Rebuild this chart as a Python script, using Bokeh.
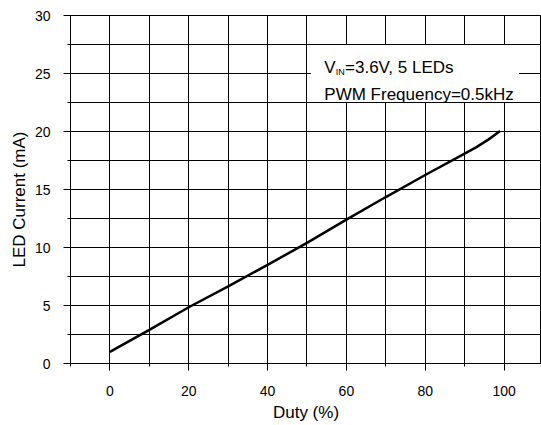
from bokeh.plotting import figure
from bokeh.models import SingleIntervalTicker, Range1d, Label, Title
from bokeh.embed import file_html
from bokeh.resources import INLINE

# data
duty = [0, 10, 20, 30, 40, 50, 60, 70, 80, 90, 93, 96, 99]
current = [1.0, 2.9, 4.85, 6.65, 8.5, 10.4, 12.4, 14.35, 16.25, 18.1, 18.65, 19.3, 20.05]

x_ticks_major = 20
y_ticks_major = 5
x_label = "Duty (%)"
y_label = "LED Current (mA)"
note_v = "V"
note_sub = "IN"
note_rest = "=3.6V, 5 LEDs"
note_line2 = "PWM Frequency=0.5kHz"

FONT = "Liberation Sans"

p = figure(width=541, height=425, output_backend="svg", toolbar_location=None,
           x_range=Range1d(-10, 109.5), y_range=Range1d(0, 30),
           min_border_left=70, min_border_right=0, min_border_top=15, min_border_bottom=62)
p.background_fill_color = "white"
p.border_fill_color = "white"
p.outline_line_color = "black"
p.outline_line_width = 1

# axes
p.xaxis.ticker = SingleIntervalTicker(interval=x_ticks_major, num_minor_ticks=2)
p.yaxis.ticker = SingleIntervalTicker(interval=y_ticks_major, num_minor_ticks=2)
for ax in (p.xaxis[0], p.yaxis[0]):
    ax.axis_line_color = "black"
    ax.axis_line_width = 1
    ax.major_tick_line_color = "black"
    ax.minor_tick_line_color = "black"
    ax.major_tick_in = 0
    ax.major_tick_out = 7
    ax.minor_tick_in = 0
    ax.minor_tick_out = 3
    ax.major_label_text_font = FONT
    ax.major_label_text_font_size = "14px"
    ax.major_label_text_color = "black"
p.yaxis.major_label_standoff = 13
p.xaxis.major_label_standoff = 15
p.xaxis.axis_label = x_label
p.xaxis.axis_label_text_font = FONT
p.xaxis.axis_label_text_font_size = "17px"
p.xaxis.axis_label_text_font_style = "normal"
p.xaxis.axis_label_text_color = "black"
p.xaxis.axis_label_standoff = 4

# grid
p.xgrid.ticker = p.xaxis[0].ticker
p.ygrid.ticker = p.yaxis[0].ticker
for g in (p.xgrid[0], p.ygrid[0]):
    g.grid_line_color = "black"
    g.grid_line_width = 1
    g.grid_line_alpha = 1
    g.minor_grid_line_color = "black"
    g.minor_grid_line_width = 1

# curve
p.line(duty, current, line_color="black", line_width=2.5)

# white note box hiding the grid
p.quad(left=[51], right=[103.8], top=[27.45], bottom=[22.55],
       fill_color="white", line_color=None)

p.add_layout(Label(x=54.4, y=25.52, text=note_v, text_font=FONT, text_font_size="17px",
                   text_color="black", text_baseline="alphabetic"))
p.add_layout(Label(x=54.4, y=25.09, x_offset=11.4, text=note_sub, text_font=FONT,
                   text_font_size="9px", text_color="black", text_baseline="alphabetic"))
p.add_layout(Label(x=54.4, y=25.52, x_offset=20.7, text=note_rest, text_font=FONT,
                   text_font_size="17px", text_color="black", text_baseline="alphabetic"))
p.add_layout(Label(x=54.4, y=23.22, text=note_line2, text_font=FONT, text_font_size="17px",
                   text_color="black", text_baseline="alphabetic"))

# y axis title (placed as in the reference, slightly below centre)
p.add_layout(Title(text=y_label, align="left", offset=96, text_font=FONT,
                   text_font_size="17px", text_font_style="normal", text_color="black",
                   standoff=6), "left")

open("out.html", "w").write(file_html(p, INLINE))
